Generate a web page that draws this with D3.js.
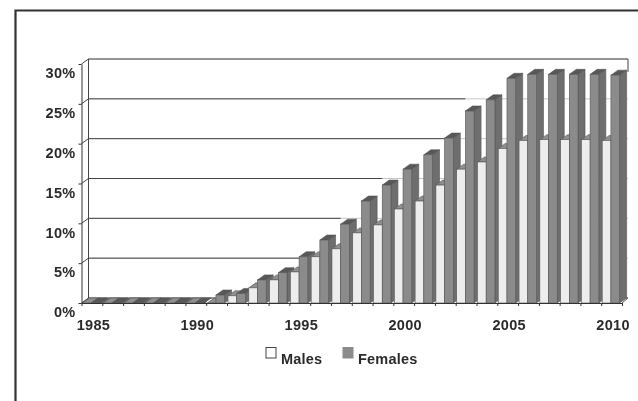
<!DOCTYPE html>
<html>
<head>
<meta charset="utf-8">
<script src="https://cdnjs.cloudflare.com/ajax/libs/d3/7.8.5/d3.min.js"></script>
<style>
body { margin: 0; background: #fff; }
text { font-family: "Liberation Sans", Arial, sans-serif; font-weight: bold; fill: #2b2b2b; }
.axis text { font-size: 14.5px; letter-spacing: 0.3px; }
.legend text { font-size: 14.5px; letter-spacing: 0.2px; }
</style>
</head>
<body>
<svg width="638" height="401"></svg>
<script>
var years = d3.range(1985, 2011);
var males = [0, 0, 0, 0, 0, 0, 0, 0.9, 1.9, 2.9, 3.9, 5.8, 6.8, 8.8, 9.8, 11.8, 12.8, 14.8, 16.8, 17.7, 19.4, 20.4, 20.5, 20.5, 20.5, 20.4];
var females = [0, 0, 0, 0, 0, 0, 1.0, 1.2, 2.9, 3.8, 5.8, 7.9, 9.9, 12.8, 14.8, 16.8, 18.6, 20.7, 24.1, 25.5, 28.2, 28.7, 28.7, 28.7, 28.7, 28.6];
var yTicks = [0, 5, 10, 15, 20, 25, 30];
var yearLabels = [1985, 1990, 1995, 2000, 2005, 2010];
var seriesNames = ["Males", "Females"];

var svg = d3.select("svg");
var left = 81.5, right = 622, bottom = 303, top_ = 64;
var depthX = 7, depthY = 5;

// one slot per year, ticks sit on the slot edges
var x = d3.scaleBand().domain(years).range([left, right]);
var xEdge = d3.scaleLinear().domain([0, years.length]).range([left, right]);
var x1 = d3.scaleBand().domain(seriesNames).range([1, 18.4]);
var y = d3.scaleLinear().domain([0, 30]).range([bottom, top_]);

var colors = {
    Males: { front: "#ededed", side: "#c4c4c4", top: "#8f8f8f" },
    Females: { front: "#8b8b8b", side: "#6e6e6e", top: "#585858" }
};

// scan looks a bit soft
var defs = svg.append("defs");
defs.append("filter").attr("id", "soft")
    .append("feGaussianBlur").attr("stdDeviation", 0.55);

var g = svg.append("g").attr("filter", "url(#soft)");

// outer frame, open at right and bottom
g.append("path")
    .attr("d", "M15.5,401V10.5H638")
    .attr("fill", "none").attr("stroke", "#333").attr("stroke-width", 2.2);

// back wall grid: dark up to the first bar that hides it, faint in the gaps after that
yTicks.forEach(function (v) {
    var yy = y(v);
    var wallEnd = right + depthX - 1;
    var first = females.findIndex(function (f) { return v > 0 && f >= v - 1; });
    var stop = first < 0 ? wallEnd : x(years[first]) + x1("Females");
    g.append("line")
        .attr("x1", left + depthX).attr("x2", wallEnd)
        .attr("y1", yy - depthY).attr("y2", yy - depthY)
        .attr("stroke", "#c8c8c8");
    g.append("path")
        .attr("d", "M" + left + "," + yy + "L" + (left + depthX) + "," + (yy - depthY) + "H" + stop)
        .attr("fill", "none")
        .attr("stroke", "#444").attr("stroke-width", 1);
});
g.append("line")
    .attr("x1", left + depthX).attr("x2", left + depthX)
    .attr("y1", y(30) - depthY).attr("y2", y(0) - depthY)
    .attr("stroke", "#444");
g.append("line")
    .attr("x1", right + depthX - 1).attr("x2", right + depthX - 1)
    .attr("y1", y(30) - depthY).attr("y2", y(29))
    .attr("stroke", "#444");

// dark floor strip under the empty years
g.append("path")
    .attr("d", "M" + left + "," + y(0) + "l" + depthX + "," + (-depthY) + "H" + x(1991) + "V" + y(0) + "Z")
    .attr("fill", "#666");

function drawBar(name, year, value) {
    var x0 = x(year) + x1(name);
    var w = x1.bandwidth();
    var yy = y(value);
    var base = y(0);
    var c = colors[name];
    var bar = g.append("g").attr("stroke", "#555").attr("stroke-width", 0.6);
    bar.append("path")
        .attr("d", "M" + (x0 + w) + "," + yy + "l" + depthX + "," + (-depthY) + "V" + (base - depthY) + "L" + (x0 + w) + "," + base + "Z")
        .attr("fill", c.side);
    bar.append("path")
        .attr("d", "M" + x0 + "," + yy + "l" + depthX + "," + (-depthY) + "h" + w + "l" + (-depthX) + "," + depthY + "Z")
        .attr("fill", c.top);
    bar.append("rect")
        .attr("x", x0).attr("y", yy)
        .attr("width", w).attr("height", base - yy)
        .attr("fill", c.front);
}

years.forEach(function (year, i) {
    drawBar("Males", year, males[i]);
    drawBar("Females", year, females[i]);
});

// floor edge at the right end
g.append("path")
    .attr("d", "M" + right + "," + y(0) + "l" + (depthX - 1) + "," + (-depthY))
    .attr("stroke", "#555").attr("fill", "none");

// axes
var yAxis = g.append("g")
    .attr("class", "axis")
    .attr("transform", "translate(" + left + ",0)")
    .call(d3.axisLeft(y).tickValues(yTicks).tickSize(3).tickPadding(3).tickSizeOuter(0).tickFormat(function (d) { return d + "%"; }));
yAxis.selectAll("text").attr("dy", "0.95em");
yAxis.selectAll("line, path").attr("stroke", "#333");

var xTicks = g.append("g")
    .attr("transform", "translate(0," + bottom + ")")
    .call(d3.axisBottom(xEdge).tickValues(d3.range(0, years.length + 1)).tickSize(3).tickSizeOuter(0).tickFormat(""));
xTicks.selectAll("line, path").attr("stroke", "#333");

var xLabels = g.append("g")
    .attr("class", "axis")
    .attr("transform", "translate(1.5," + bottom + ")")
    .call(d3.axisBottom(x).tickValues(yearLabels).tickSize(0).tickPadding(17));
xLabels.select(".domain").remove();

// legend
var legendX = d3.scalePoint().domain(seriesNames).range([266, 343]);
var legend = g.append("g").attr("class", "legend");
seriesNames.forEach(function (name) {
    legend.append("rect")
        .attr("x", legendX(name)).attr("y", 347.5)
        .attr("width", 10).attr("height", 10.5)
        .attr("fill", name == "Males" ? "#fff" : colors[name].front)
        .attr("stroke", name == "Males" ? "#444" : colors[name].front);
    legend.append("text")
        .attr("x", legendX(name) + 15).attr("y", 364)
        .text(name);
});
</script>
</body>
</html>
